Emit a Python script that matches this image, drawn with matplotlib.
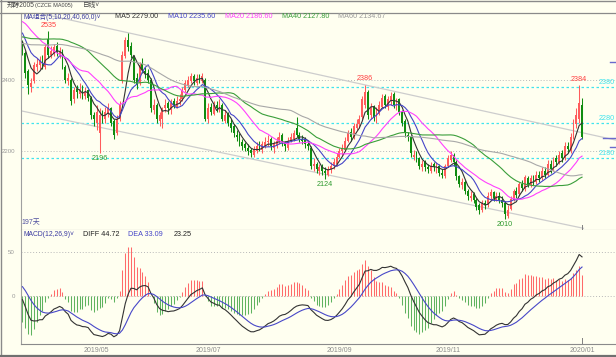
import matplotlib
matplotlib.use("Agg")
import matplotlib.pyplot as plt
from matplotlib.lines import Line2D
import numpy as np
import pandas as pd

plt.rcParams['font.family'] = ['Liberation Sans', 'Noto Sans CJK SC', 'DejaVu Sans']

# closes before the visible window (only feed the moving averages / MACD)
prior_close = [
    2450, 2460, 2470, 2455, 2445, 2460, 2475, 2480, 2470, 2465,
    2455, 2450, 2460, 2470, 2480, 2475, 2465, 2460, 2455, 2465,
    2470, 2460, 2450, 2445, 2455, 2470, 2480, 2475, 2465, 2470,
    2485, 2490, 2480, 2475, 2485, 2495, 2490, 2485, 2500, 2510,
    2530, 2560, 2590, 2610, 2620, 2600, 2610, 2590, 2620, 2610,
    2600, 2580, 2560, 2530, 2500, 2530, 2520, 2510, 2490,
]

open_ = [
    2500, 2475, 2425, 2380, 2395, 2435, 2440, 2460, 2435, 2515,
    2470, 2475, 2495, 2470, 2480, 2435, 2395, 2400, 2345, 2375,
    2360, 2380, 2355, 2370, 2350, 2300, 2280, 2250, 2305, 2290,
    2305, 2320, 2285, 2250, 2290, 2400, 2465, 2510, 2495, 2465,
    2405, 2390, 2445, 2425, 2420, 2400, 2315, 2330, 2285, 2290,
    2320, 2335, 2315, 2340, 2325, 2340, 2345, 2370, 2385, 2395,
    2410, 2390, 2410, 2395, 2400, 2290, 2325, 2305, 2330, 2315,
    2330, 2285, 2305, 2280, 2270, 2245, 2240, 2225, 2220, 2210,
    2205, 2190, 2200, 2220, 2205, 2215, 2225, 2235, 2210, 2215,
    2230, 2245, 2225, 2210, 2230, 2235, 2265, 2245, 2235, 2235,
    2220, 2210, 2160, 2165, 2145, 2160, 2145, 2135, 2150, 2160,
    2165, 2185, 2200, 2205, 2230, 2255, 2240, 2265, 2275, 2295,
    2330, 2365, 2300, 2325, 2290, 2305, 2325, 2355, 2325, 2340,
    2360, 2325, 2345, 2310, 2285, 2245, 2240, 2185, 2195, 2180,
    2155, 2170, 2155, 2145, 2165, 2150, 2160, 2140, 2130, 2160,
    2175, 2190, 2170, 2130, 2105, 2115, 2090, 2070, 2080, 2065,
    2050, 2035, 2055, 2050, 2075, 2085, 2065, 2075, 2065, 2055,
    2020, 2040, 2065, 2090, 2080, 2110, 2095, 2125, 2105, 2125,
    2115, 2135, 2125, 2145, 2135, 2165, 2150, 2180, 2170, 2195,
    2180, 2215, 2200, 2240, 2275, 2290, 2330,
]
high = [
    2510, 2480, 2430, 2405, 2450, 2460, 2465, 2470, 2500, 2535,
    2495, 2500, 2505, 2490, 2485, 2440, 2420, 2405, 2380, 2385,
    2390, 2385, 2380, 2375, 2355, 2310, 2330, 2320, 2315, 2325,
    2335, 2325, 2290, 2300, 2340, 2480, 2520, 2530, 2505, 2470,
    2420, 2450, 2460, 2435, 2430, 2405, 2345, 2335, 2310, 2325,
    2345, 2340, 2345, 2350, 2355, 2360, 2380, 2400, 2410, 2420,
    2415, 2415, 2415, 2420, 2405, 2335, 2335, 2340, 2340, 2345,
    2335, 2315, 2310, 2290, 2275, 2260, 2250, 2235, 2225, 2220,
    2210, 2215, 2225, 2230, 2230, 2240, 2245, 2240, 2230, 2240,
    2255, 2250, 2230, 2240, 2250, 2260, 2297, 2255, 2245, 2240,
    2230, 2215, 2180, 2170, 2165, 2165, 2155, 2160, 2170, 2180,
    2195, 2210, 2220, 2240, 2260, 2265, 2280, 2290, 2300, 2355,
    2386, 2370, 2335, 2330, 2325, 2340, 2360, 2360, 2355, 2365,
    2365, 2350, 2350, 2315, 2290, 2255, 2245, 2205, 2200, 2185,
    2175, 2175, 2165, 2170, 2170, 2170, 2165, 2150, 2165, 2190,
    2200, 2195, 2175, 2135, 2125, 2120, 2095, 2090, 2085, 2070,
    2055, 2065, 2065, 2085, 2095, 2090, 2085, 2085, 2075, 2060,
    2050, 2075, 2095, 2100, 2115, 2120, 2135, 2130, 2135, 2135,
    2145, 2145, 2155, 2155, 2175, 2175, 2185, 2190, 2200, 2205,
    2225, 2225, 2250, 2290, 2320, 2384, 2350,
]
low = [
    2470, 2405, 2360, 2365, 2390, 2425, 2430, 2430, 2430, 2460,
    2460, 2465, 2465, 2460, 2430, 2390, 2385, 2330, 2335, 2350,
    2350, 2345, 2345, 2340, 2290, 2270, 2260, 2196, 2280, 2280,
    2295, 2270, 2235, 2245, 2285, 2390, 2460, 2480, 2460, 2390,
    2375, 2385, 2420, 2405, 2390, 2310, 2305, 2280, 2270, 2265,
    2310, 2305, 2305, 2320, 2320, 2330, 2340, 2365, 2380, 2390,
    2385, 2385, 2390, 2390, 2285, 2280, 2300, 2300, 2310, 2310,
    2285, 2280, 2270, 2255, 2240, 2230, 2215, 2205, 2200, 2190,
    2185, 2185, 2195, 2200, 2195, 2210, 2215, 2205, 2195, 2210,
    2220, 2215, 2200, 2205, 2225, 2230, 2240, 2225, 2220, 2210,
    2205, 2150, 2145, 2140, 2135, 2135, 2124, 2130, 2140, 2150,
    2160, 2180, 2190, 2200, 2225, 2230, 2235, 2260, 2265, 2290,
    2320, 2290, 2290, 2285, 2280, 2300, 2320, 2320, 2315, 2330,
    2320, 2315, 2300, 2270, 2240, 2230, 2185, 2175, 2170, 2150,
    2145, 2145, 2140, 2140, 2145, 2140, 2130, 2125, 2125, 2155,
    2170, 2160, 2120, 2100, 2095, 2080, 2065, 2060, 2055, 2035,
    2025, 2030, 2040, 2045, 2065, 2060, 2060, 2055, 2045, 2010,
    2015, 2035, 2060, 2070, 2075, 2090, 2090, 2100, 2100, 2105,
    2110, 2115, 2120, 2125, 2130, 2140, 2145, 2160, 2165, 2170,
    2175, 2195, 2195, 2235, 2265, 2280, 2235,
]
close = [
    2480, 2420, 2385, 2390, 2440, 2445, 2455, 2440, 2490, 2470,
    2480, 2490, 2475, 2480, 2440, 2400, 2405, 2340, 2370, 2365,
    2375, 2360, 2365, 2350, 2300, 2290, 2310, 2300, 2295, 2310,
    2320, 2280, 2245, 2290, 2330, 2470, 2510, 2490, 2470, 2400,
    2385, 2440, 2430, 2420, 2400, 2320, 2330, 2290, 2300, 2320,
    2330, 2320, 2335, 2330, 2340, 2345, 2370, 2390, 2400, 2410,
    2395, 2405, 2400, 2410, 2290, 2320, 2310, 2330, 2320, 2330,
    2290, 2300, 2280, 2265, 2250, 2240, 2225, 2215, 2210, 2200,
    2195, 2205, 2215, 2210, 2220, 2225, 2230, 2215, 2220, 2230,
    2240, 2225, 2215, 2230, 2240, 2250, 2245, 2235, 2230, 2220,
    2215, 2160, 2165, 2150, 2155, 2145, 2140, 2150, 2160, 2170,
    2185, 2200, 2210, 2230, 2250, 2240, 2270, 2275, 2290, 2345,
    2365, 2300, 2320, 2295, 2310, 2330, 2350, 2330, 2345, 2355,
    2330, 2340, 2310, 2280, 2250, 2240, 2195, 2190, 2180, 2160,
    2165, 2155, 2150, 2160, 2155, 2160, 2140, 2133, 2160, 2180,
    2190, 2170, 2130, 2110, 2115, 2090, 2075, 2075, 2065, 2045,
    2035, 2055, 2050, 2075, 2085, 2070, 2075, 2065, 2055, 2025,
    2037, 2068, 2088, 2078, 2108, 2098, 2128, 2105, 2125, 2115,
    2135, 2125, 2145, 2135, 2165, 2150, 2176, 2170, 2190, 2180,
    2215, 2206, 2240, 2280, 2300, 2335, 2240,
]

ma_periods = [5, 10, 20, 40, 60]
ma_colors = ['#333333', '#4646c8', '#ff40ff', '#3a9e3a', '#a8a8a8']
ma_legend = ['MA5 2279.00', 'MA10 2235.60', 'MA20 2186.60', 'MA40 2127.80', 'MA60 2134.67']
ma_legend_x = [115, 167.7, 225, 281.7, 338.3]

peak_idx = [9, 120, 195]
trough_idx = [27, 106, 169]
support_levels = [2380, 2280, 2180]
right_marks = [2449, 2238, 2211]
right_marks_from = [0.99, 0.978, 0.99]
channel_upper = ([0, 208], [2596, 2231])
channel_lower = ([-0.5, 196.5], [2313, 1985])

date_idx = [26, 65, 111, 149, 196]
date_labels = ['2019/05', '2019/07', '2019/09', '2019/11', '2020/01']

W, H = 616, 357
BG = '#fffff0'
n = len(close)
x = np.arange(n)

full = pd.Series(prior_close + close, dtype=float)
mas = [full.rolling(p).mean().to_numpy()[-n:] for p in ma_periods]
ema12 = full.ewm(span=12, adjust=False).mean()
ema26 = full.ewm(span=26, adjust=False).mean()
diff = ema12 - ema26
dea = diff.ewm(span=9, adjust=False).mean()
hist = (2 * (diff - dea)).to_numpy()[-n:]
diff = diff.to_numpy()[-n:]
dea = dea.to_numpy()[-n:]

fig = plt.figure(figsize=(W / 100, H / 100), dpi=100)
fig.patch.set_facecolor(BG)


def fy(y):
    return 1 - y / H


def ftext(px, py, s, **kw):
    kw.setdefault('fontsize', 5.2)
    fig.text(px / W, fy(py), s, va='center', ha='left', **kw)


def fline(x0, y0, x1, y1, **kw):
    fig.add_artist(Line2D([x0 / W, x1 / W], [fy(y0), fy(y1)], transform=fig.transFigure, **kw))


ax = fig.add_axes([21 / W, fy(229.5), 595 / W, (229.5 - 12.7) / H])
mc = fig.add_axes([21 / W, fy(343.5), 595 / W, (343.5 - 229.5) / H])
for a in (ax, mc):
    a.set_facecolor(BG)
    a.set_xlim(-0.525, 207.9)
    for s in ('top', 'right'):
        a.spines[s].set_visible(False)
    a.spines['left'].set_color('#a0a0a0')
    a.spines['bottom'].set_color('#8a8a8a')
    a.spines['left'].set_linewidth(0.8)
    a.spines['bottom'].set_linewidth(0.8)
    a.tick_params(length=0, labelsize=4.4, labelcolor='#9a9a9a', pad=4.3)

ax.set_ylim(1981.6, 2587.1)
mc.set_ylim(-55.1, 76.4)
ax.set_xticks([])
ax.set_yticks([2200, 2400])
mc.set_yticks([0, 50])
mc.set_xticks(date_idx, date_labels)
mc.tick_params(axis='x', labelsize=5, labelcolor='#8c8c8c', pad=2.2)

# grid / levels
for lv in (2200, 2400):
    ax.axhline(lv, color='#b8b8b8', ls=(0, (1, 2)), lw=0.7, zorder=1)
for lv in (0, 50):
    mc.axhline(lv, color='#b8b8b8', ls=(0, (1, 2)), lw=0.7, zorder=1)
for lv in support_levels:
    ax.axhline(lv, color='#40e4ee', ls=(0, (2, 2)), lw=0.9, zorder=1)
    ax.text(207.6, lv + 3, str(lv), ha='right', va='bottom', color='#40e4ee', fontsize=5.2)
for lv, xm in zip(right_marks, right_marks_from):
    ax.axhline(lv, xmin=xm, xmax=1, color='#6a6acc', lw=1.0)

# channel lines
ax.plot(*channel_upper, color='#cdcdcd', lw=0.9, zorder=1)
ax.plot(*channel_lower, color='#cdcdcd', lw=0.9, zorder=1)

# candles
o = np.array(open_, float)
c = np.array(close, float)
hi = np.array(high, float)
lo = np.array(low, float)
up = c >= o
cols = np.where(up, '#ff5c5c', '#108c10')
ax.vlines(x, lo, hi, colors=cols, lw=0.75, zorder=2)
body = np.maximum(np.abs(c - o), 2)
ax.bar(x, body, bottom=np.minimum(o, c), width=0.65, color=cols, lw=0, zorder=3)

for m, col in zip(mas, ma_colors):
    ax.plot(x, m, color=col, lw=0.8, zorder=4)

for i in peak_idx:
    ax.annotate(str(high[i]), (i, high[i]), xytext=(0, 4.3), textcoords='offset points',
                ha='center', va='center', color='#ff4040', fontsize=5.2)
for i in trough_idx:
    ax.annotate(str(low[i]), (i, low[i]), xytext=(0, -4.0), textcoords='offset points',
                ha='center', va='center', color='#2e9a2e', fontsize=5.2)

# MACD
hcols = np.where(hist >= 0, '#ff6a6a', '#5fb35f')
mc.vlines(x, 0, hist, colors=hcols, lw=0.75, zorder=2)
mc.plot(x, diff, color='#333333', lw=0.8, zorder=3)
mc.plot(x, dea, color='#4848c8', lw=0.8, zorder=3)

# year marker ticks
ax.plot([196, 196], [0, 0.023], transform=ax.get_xaxis_transform(), color='#808080', lw=0.7)
mc.plot([196, 196], [0, 0.045], transform=mc.get_xaxis_transform(), color='#808080', lw=0.7)

# texts
ftext(7, 6, '郑醇2005', color='#444444', fontsize=4.8)
ftext(35, 6, '(CZCE MA005)', color='#444444', fontsize=4.0)
ftext(83, 6, '日线˅', color='#444444', fontsize=4.8)
ftext(23, 16.7, 'MA组合(5,10,20,40,60,0)˅', color='#3a3aa0', fontsize=4.8)
for s, px, col in zip(ma_legend, ma_legend_x, ma_colors):
    ftext(px, 16.7, s, color=col if col != '#a8a8a8' else '#9a9a9a')
ftext(21.5, 223, '197天', color='#5050a0', fontsize=5)
ftext(23, 235, 'MACD(12,26,9)˅', color='#3a3aa0', fontsize=4.9)
ftext(82.7, 235, 'DIFF 44.72', color='#222222')
ftext(128, 235, 'DEA 33.09', color='#4646c8')
ftext(174, 235, '23.25', color='#222222')

# window frame
fline(0, 0.5, W, 0.5, color='#8a8a8a', lw=1)
fline(0, 12.7, W, 12.7, color='#8a8a8a', lw=0.9)
fline(0.5, 0, 0.5, H, color='#8a8a8a', lw=1)
fline(0, 355.8, W, 355.8, color='#707070', lw=1.6)

fig.savefig('out.png', dpi=100, facecolor=BG)
